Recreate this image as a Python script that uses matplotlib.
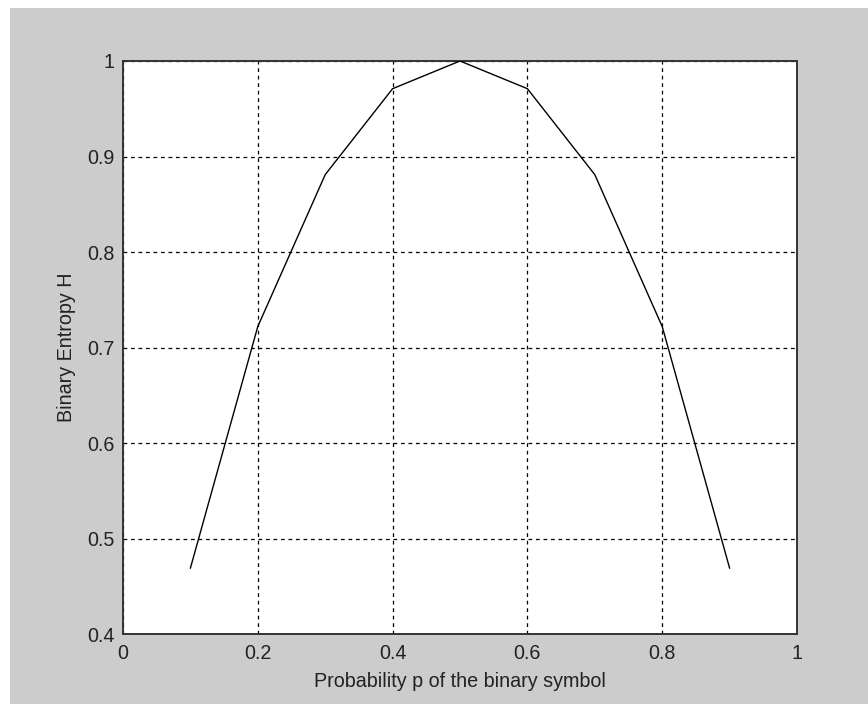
import matplotlib
matplotlib.use("Agg")
import matplotlib.pyplot as plt
from matplotlib.patches import Rectangle

p = [0.1, 0.2, 0.3, 0.4, 0.5, 0.6, 0.7, 0.8, 0.9]
H = [0.469, 0.722, 0.881, 0.971, 1.0, 0.971, 0.881, 0.722, 0.469]
xticks = [0, 0.2, 0.4, 0.6, 0.8, 1]
xticklabels = ["0", "0.2", "0.4", "0.6", "0.8", "1"]
yticks = [0.4, 0.5, 0.6, 0.7, 0.8, 0.9, 1]
yticklabels = ["0.4", "0.5", "0.6", "0.7", "0.8", "0.9", "1"]

plt.rcParams['font.family'] = ['Liberation Sans', 'DejaVu Sans']

W, Hh = 868, 704
fig = plt.figure(figsize=(W / 100, Hh / 100), dpi=100, facecolor='white')
fig.patches.append(Rectangle((10 / W, 0), 1 - 10 / W, 1 - 8 / Hh,
                             transform=fig.transFigure, facecolor='#cccccc',
                             edgecolor='none', zorder=-10))

ax = fig.add_axes([123 / W, (Hh - 634) / Hh, 674 / W, 573 / Hh])
ax.set_zorder(5)
ax.set_facecolor('white')
ax.plot(p, H, color='black', linewidth=1.0, zorder=3)
ax.set_xlim(0, 1)
ax.set_ylim(0.4, 1)
ax.set_xticks(xticks)
ax.set_xticklabels(xticklabels)
ax.set_yticks(yticks)
ax.set_yticklabels(yticklabels)
ax.grid(True, color='black', linestyle=(0, (3, 3)), linewidth=0.9)
ax.tick_params(axis='both', length=0, labelsize=14.2, colors='#222222')
ax.tick_params(axis='x', pad=7)
ax.tick_params(axis='y', pad=6)
for s in ax.spines.values():
    s.set_color('#333333')
    s.set_linewidth(1.4)
ax.set_xlabel("Probability p of the binary symbol", fontsize=14.2, color='#222222', labelpad=7)
ax.set_ylabel("Binary Entropy H", fontsize=14.2, color='#222222', labelpad=8)

fig.savefig("out.png", dpi=100, facecolor=fig.get_facecolor())
